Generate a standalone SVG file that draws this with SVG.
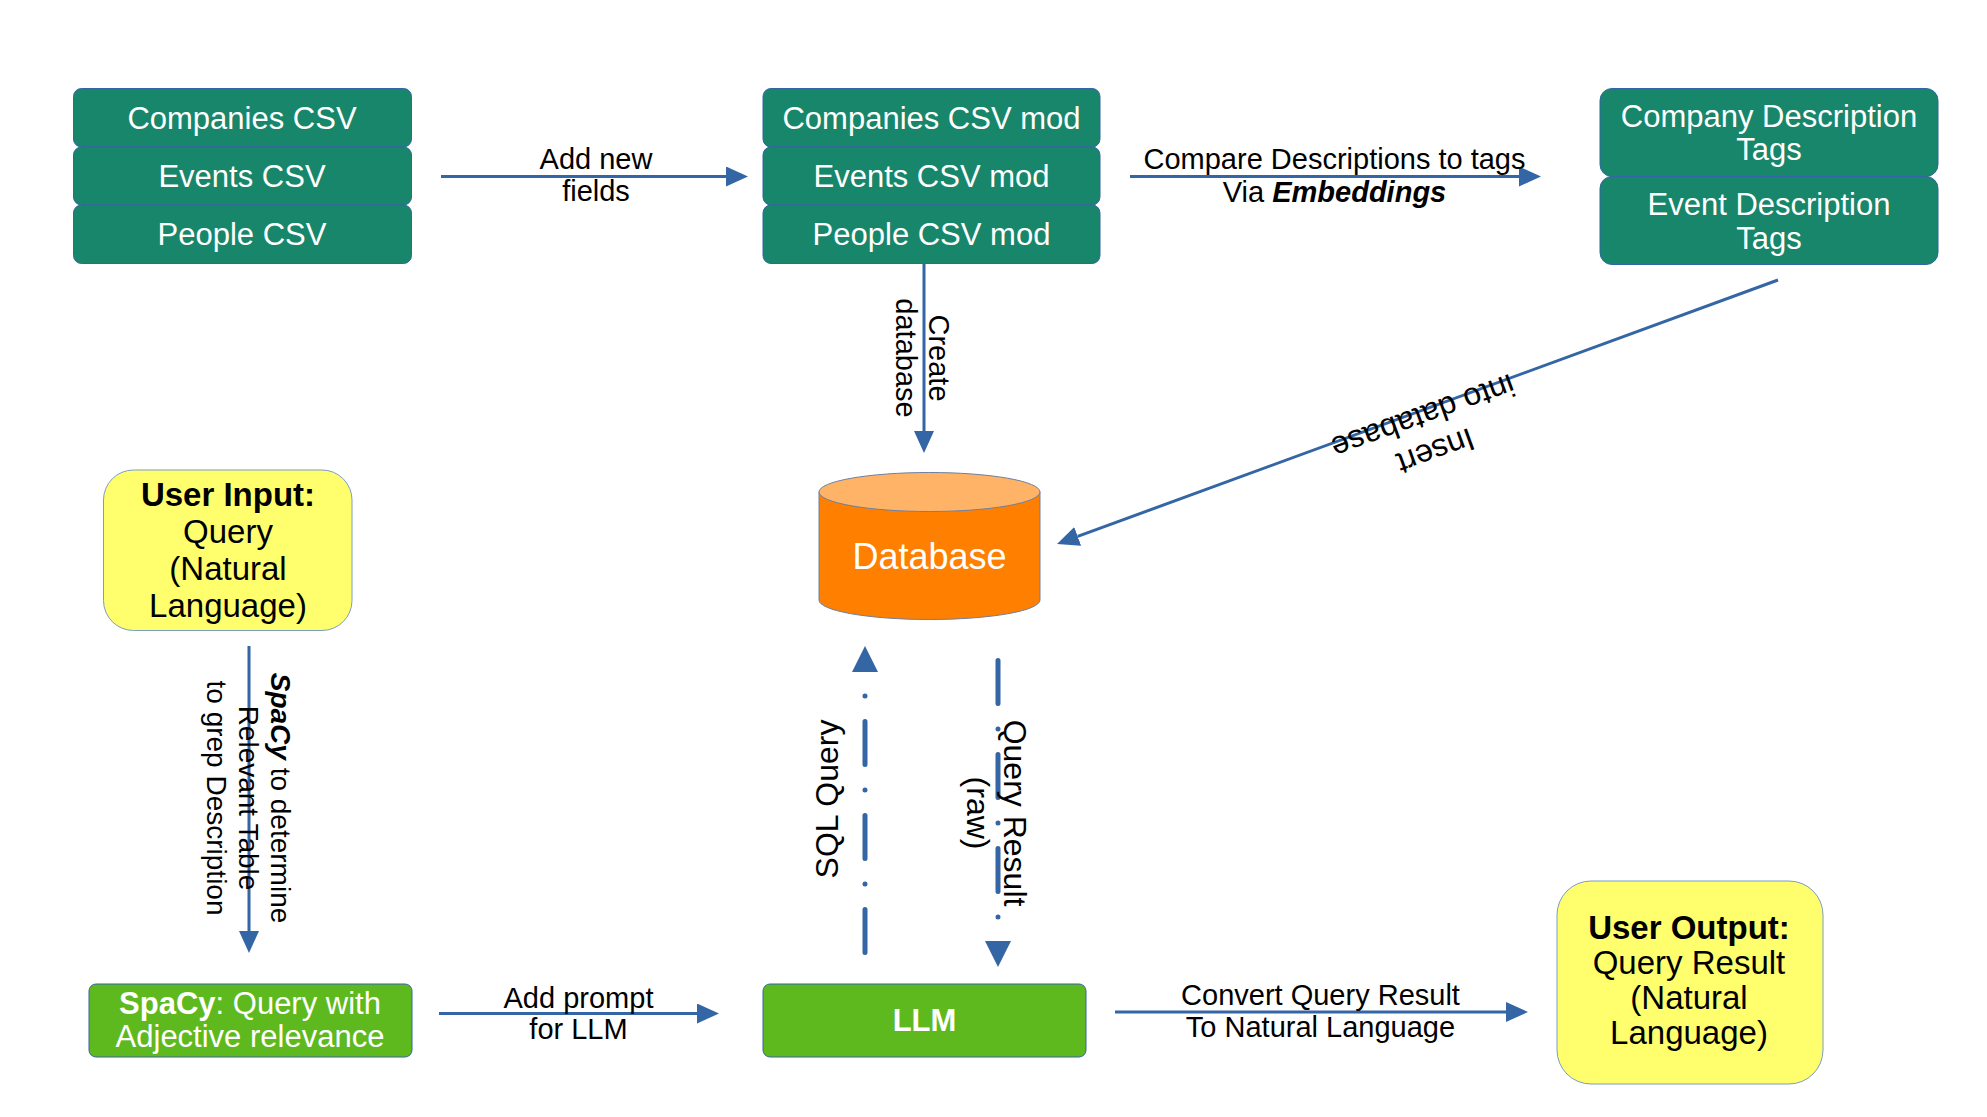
<svg xmlns="http://www.w3.org/2000/svg" width="1987" height="1117" viewBox="0 0 1987 1117">
<style>
text{font-family:"Liberation Sans",Arial,sans-serif;text-anchor:middle}
.teal{fill:#17866a;stroke:#3465a4;stroke-width:1}
.grn{fill:#5eb91e;stroke:#3465a4;stroke-width:1}
.yel{fill:#ffff6d;stroke:#7c9cc4;stroke-width:1}
.wt{fill:#ffffff;font-size:31px}
.bk{fill:#000000;font-size:32px}
.big{fill:#000000;font-size:33px}
.lbl{fill:#000000;font-size:29px}
.vl{fill:#000000;font-size:28px}
.conn{stroke:#3465a4;stroke-width:3;fill:none}
.dash{stroke:#3465a4;stroke-width:5;fill:none;stroke-linecap:round;stroke-dasharray:43 25.5 0.01 25.5}
</style>
<defs>
<marker id="ah" markerUnits="userSpaceOnUse" markerWidth="22" markerHeight="20" refX="0" refY="10" orient="auto">
<path d="M0,0 L22,10 L0,20 z" fill="#3465a4"/>
</marker>
<marker id="ahd" markerUnits="userSpaceOnUse" markerWidth="26" markerHeight="26" refX="0" refY="13" orient="auto">
<path d="M0,0 L26,13 L0,26 z" fill="#3465a4"/>
</marker>
</defs>
<rect width="1987" height="1117" fill="#ffffff"/>

<g id="csv-original">
<rect class="teal" x="73.5" y="88.5" width="338" height="58.5" rx="8"/>
<rect class="teal" x="73.5" y="147" width="338" height="58" rx="8"/>
<rect class="teal" x="73.5" y="205" width="338" height="58.5" rx="8"/>
<text class="wt" x="242" y="128.5">Companies CSV</text>
<text class="wt" x="242" y="186.5">Events CSV</text>
<text class="wt" x="242" y="245">People CSV</text>
</g>

<g id="csv-mod">
<rect class="teal" x="763" y="88.5" width="337" height="58.5" rx="8"/>
<rect class="teal" x="763" y="147" width="337" height="58" rx="8"/>
<rect class="teal" x="763" y="205" width="337" height="58.5" rx="8"/>
<text class="wt" x="931.5" y="128.5">Companies CSV mod</text>
<text class="wt" x="931.5" y="186.5">Events CSV mod</text>
<text class="wt" x="931.5" y="245">People CSV mod</text>
</g>

<g id="tags">
<rect class="teal" x="1600" y="88.5" width="338" height="88" rx="12"/>
<rect class="teal" x="1600" y="176.5" width="338" height="88" rx="12"/>
<text class="wt" x="1769" y="127">Company Description</text>
<text class="wt" x="1769" y="160">Tags</text>
<text class="wt" x="1769" y="215">Event Description</text>
<text class="wt" x="1769" y="248.5">Tags</text>
</g>

<g id="database">
<path d="M819,492 L819,600 A110.5,19.5 0 0 0 1040,600 L1040,492 z" fill="#ff8000" stroke="#6f7f9f" stroke-width="1"/>
<ellipse cx="929.5" cy="492" rx="110.5" ry="19.5" fill="#ffb366" stroke="#6f7f9f" stroke-width="1"/>
<text x="929.5" y="569" fill="#ffffff" font-size="36">Database</text>
</g>

<g id="user-input">
<rect class="yel" x="103.5" y="470" width="248.5" height="160.5" rx="30"/>
<text class="big" x="228" y="506" font-weight="bold">User Input:</text>
<text class="big" x="228" y="543">Query</text>
<text class="big" x="228" y="580">(Natural</text>
<text class="big" x="228" y="617">Language)</text>
</g>

<g id="spacy">
<rect class="grn" x="89" y="984" width="323" height="73" rx="7"/>
<text class="wt" x="250" y="1013.5"><tspan font-weight="bold">SpaCy</tspan>: Query with</text>
<text class="wt" x="250" y="1047">Adjective relevance</text>
</g>

<g id="llm">
<rect class="grn" x="763" y="984" width="323" height="73" rx="7"/>
<text class="wt" x="924.5" y="1031" font-weight="bold">LLM</text>
</g>

<g id="user-output">
<rect class="yel" x="1557" y="881" width="266" height="203" rx="34"/>
<text class="big" x="1689" y="939" font-weight="bold">User Output:</text>
<text class="big" x="1689" y="974">Query Result</text>
<text class="big" x="1689" y="1009">(Natural</text>
<text class="big" x="1689" y="1044">Language)</text>
</g>

<g id="connectors">
<line class="conn" x1="441" y1="176.5" x2="726" y2="176.5" marker-end="url(#ah)"/>
<text class="lbl" x="596" y="169">Add new</text>
<text class="lbl" x="596" y="201">fields</text>

<line class="conn" x1="1130" y1="176.5" x2="1519" y2="176.5" marker-end="url(#ah)"/>
<text class="lbl" x="1334.5" y="169">Compare Descriptions to tags</text>
<text class="lbl" x="1334.5" y="202">Via <tspan font-weight="bold" font-style="italic">Embeddings</tspan></text>

<line class="conn" x1="924" y1="264" x2="924" y2="431" marker-end="url(#ah)"/>
<g transform="translate(912,358) rotate(90)">
<text class="lbl" x="0" y="-17">Create</text>
<text class="lbl" x="0" y="16">database</text>
</g>

<line class="conn" x1="1778" y1="280" x2="1077.7" y2="536.4" marker-end="url(#ah)"/>
<g transform="translate(1432,441.2) rotate(160)">
<text class="bk" x="0" y="0">Insert</text>
<text class="bk" x="0" y="37">into database</text>
</g>

<line class="conn" x1="249" y1="646" x2="249" y2="931" marker-end="url(#ah)"/>
<g transform="translate(239,798) rotate(90)">
<text class="vl" x="0" y="-32"><tspan font-weight="bold" font-style="italic">SpaCy</tspan> to determine</text>
<text class="vl" x="0" y="0">Relevant Table</text>
<text class="vl" x="0" y="32">to grep Description</text>
</g>

<path class="dash" d="M865,952.5 L865,672" marker-end="url(#ahd)"/>
<text class="bk" transform="translate(838,799) rotate(-90)" x="0" y="0">SQL Query</text>

<path class="dash" d="M998,660.5 L998,941" marker-end="url(#ahd)"/>
<g transform="translate(1004,813) rotate(90)">
<text class="bk" x="0" y="0">Query Result</text>
<text class="bk" x="0" y="37">(raw)</text>
</g>

<line class="conn" x1="439" y1="1013.5" x2="697" y2="1013.5" marker-end="url(#ah)"/>
<text class="lbl" x="578.5" y="1007.5">Add prompt</text>
<text class="lbl" x="578.5" y="1039">for LLM</text>

<line class="conn" x1="1115" y1="1012" x2="1506" y2="1012" marker-end="url(#ah)"/>
<text class="lbl" x="1320.5" y="1005">Convert Query Result</text>
<text class="lbl" x="1320.5" y="1036.5">To Natural Language</text>
</g>
</svg>
